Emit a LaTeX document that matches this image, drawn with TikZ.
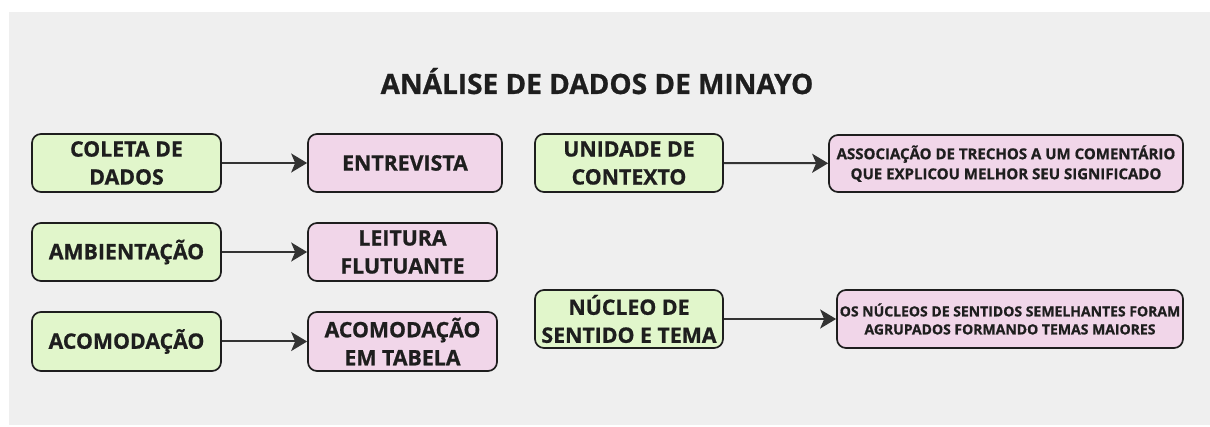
\documentclass[tikz,border=0pt]{standalone}
\usepackage{fontspec}
\setmainfont{Open Sans}[BoldFont={* Bold}, BoldFeatures={FakeBold=0.8}]
\usetikzlibrary{arrows.meta}
\definecolor{bgc}{HTML}{EFEFEF}
\definecolor{greenc}{HTML}{E1F6CB}
\definecolor{pinkc}{HTML}{F1D6E9}
\definecolor{edgec}{HTML}{1E1E1E}
\definecolor{arrc}{HTML}{333333}
\tikzset{
  box/.style={draw=edgec, line width=1.7pt, rounded corners=9pt, align=center,
    inner sep=0pt, font=\bfseries\fontsize{21.3}{28}\selectfont, text=edgec},
  gbox/.style={box, fill=greenc},
  pbox/.style={box, fill=pinkc},
  smalltext/.style={font=\bfseries\fontsize{15}{20}\selectfont},
  smallertext/.style={font=\bfseries\fontsize{14}{18}\selectfont},
  conn/.style={draw=arrc, line width=2pt, -{Stealth[length=16pt,width=19pt,inset=4pt]}},
}
\begin{document}
\begin{tikzpicture}[x=1pt,y=-1pt]
\useasboundingbox (0,0) rectangle (1210,427);
\fill[white] (0,0) rectangle (1210,427);
\fill[bgc] (9,12) rectangle (1210,425);
\node[font=\bfseries\fontsize{28}{32}\selectfont, text=edgec, anchor=base] (title) at (597,94) {ANÁLISE DE DADOS DE MINAYO};

\node[gbox, minimum width=189pt, minimum height=58pt] (c1) at (126.5,163) {COLETA DE\\DADOS};
\node[pbox, minimum width=194pt, minimum height=58pt] (e1) at (405,163) {ENTREVISTA};
\node[gbox, minimum width=189pt, minimum height=58pt] (a1) at (126.5,252) {AMBIENTAÇÃO};
\node[pbox, minimum width=189pt, minimum height=58pt] (l1) at (402.5,252) {LEITURA\\FLUTUANTE};
\node[gbox, minimum width=189pt, minimum height=59pt] (ac) at (126.5,341.5) {ACOMODAÇÃO};
\node[pbox, minimum width=189pt, minimum height=59pt] (at) at (402.5,341.5) {ACOMODAÇÃO\\EM TABELA};

\node[gbox, minimum width=188pt, minimum height=58pt] (u) at (629,163) {UNIDADE DE\\CONTEXTO};
\node[pbox, smalltext, minimum width=354pt, minimum height=57pt] (as) at (1006,163.5) {ASSOCIAÇÃO DE TRECHOS A UM COMENTÁRIO\\QUE EXPLICOU MELHOR SEU SIGNIFICADO};
\node[gbox, minimum width=188pt, minimum height=58pt] (n) at (629,319) {NÚCLEO DE\\SENTIDO E TEMA};
\node[pbox, smallertext, minimum width=346pt, minimum height=58pt] (os) at (1010,319) {OS NÚCLEOS DE SENTIDOS SEMELHANTES FORAM\\AGRUPADOS FORMANDO TEMAS MAIORES};

\draw[conn] (c1) -- (e1);
\draw[conn] (a1) -- (l1);
\draw[conn] (ac) -- (at);
\draw[conn] (u) -- (as);
\draw[conn] (n) -- (os);
\end{tikzpicture}
\end{document}
